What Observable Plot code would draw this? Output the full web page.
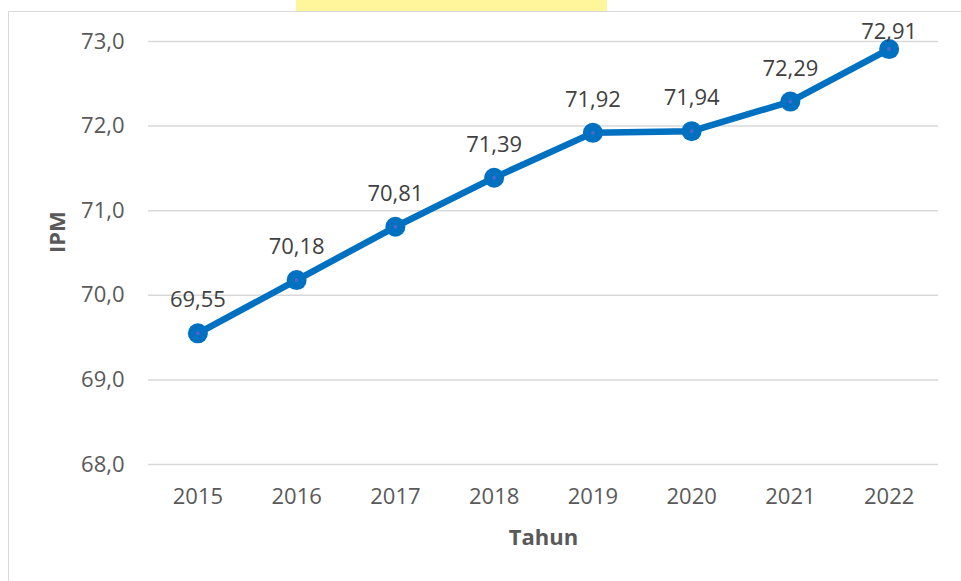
<!DOCTYPE html>
<html>
<head>
<meta charset="utf-8">
<script src="https://cdn.jsdelivr.net/npm/d3@7"></script>
<script src="https://cdn.jsdelivr.net/npm/@observablehq/plot@0.6"></script>
<style>
  html, body { margin: 0; padding: 0; background: #fff; overflow: hidden; }
  #wrap { position: relative; width: 961px; height: 581px; overflow: hidden; }
  #frame { position: absolute; left: 8px; top: 11px; width: 1200px; height: 1200px; border: 1.5px solid #d9d9d9; box-sizing: border-box; }
  #wm { position: absolute; left: 296px; top: 0; width: 311px; height: 11px; background: #fff59a; }
  #chart { position: absolute; left: 0; top: 0; }
</style>
</head>
<body>
<div id="wrap">
  <div id="wm"></div>
  <div id="frame"></div>
  <div id="chart"></div>
</div>
<script>
const years = ["2015", "2016", "2017", "2018", "2019", "2020", "2021", "2022"];
const ipm = [69.55, 70.18, 70.81, 71.39, 71.92, 71.94, 72.29, 72.91];
const yTicks = [68, 69, 70, 71, 72, 73];

const data = years.map((y, i) => ({year: y, value: ipm[i]}));
const comma = (f) => (v) => d3.format(f)(v).replace(".", ",");
const font = "'Open Sans', sans-serif";
const last = data.length - 1;

const chart = Plot.plot({
  width: 961,
  height: 581,
  marginLeft: 148,
  marginRight: 23,
  marginTop: 41,
  marginBottom: 117,
  style: {fontFamily: font, fontSize: "22px", background: "transparent", color: "#595959"},
  x: {type: "band", domain: years, padding: 0, round: false, label: null},
  y: {domain: [68, 73], label: null},
  marks: [
    Plot.gridY(yTicks, {stroke: "#d9d9d9", strokeOpacity: 1, strokeWidth: 1.5}),
    Plot.axisY(yTicks, {tickSize: 0, tickPadding: 24, tickFormat: comma(".1f"), fill: "#595959", fontSize: 22, label: null}),
    Plot.axisX({tickSize: 0, tickPadding: 24, fill: "#595959", fontSize: 22, label: null}),
    Plot.line(data, {x: "year", y: "value", stroke: "#0070C0", strokeWidth: 6.5, strokeLinejoin: "round"}),
    Plot.dot(data, {x: "year", y: "value", r: 10, fill: "#0070C0", stroke: "none"}),
    Plot.dot(data, {x: "year", y: "value", r: 2, fill: "#4a68c8", stroke: "none"}),
    Plot.text(data.filter((d, i) => i < last), {x: "year", y: "value", text: (d) => comma(".2f")(d.value), dy: -33, fill: "#404040", fontSize: 22}),
    Plot.text(data.filter((d, i) => i === last), {x: "year", y: "value", text: (d) => comma(".2f")(d.value), dy: -17, fill: "#404040", fontSize: 22}),
    Plot.text(["Tahun"], {frameAnchor: "bottom", dy: 80, fontWeight: "bold", fill: "#595959", fontSize: 22}),
    Plot.text(["IPM"], {frameAnchor: "left", dx: -91, rotate: -90, fontWeight: "bold", fill: "#595959", fontSize: 22})
  ]
});
document.getElementById("chart").appendChild(chart);
</script>
</body>
</html>
